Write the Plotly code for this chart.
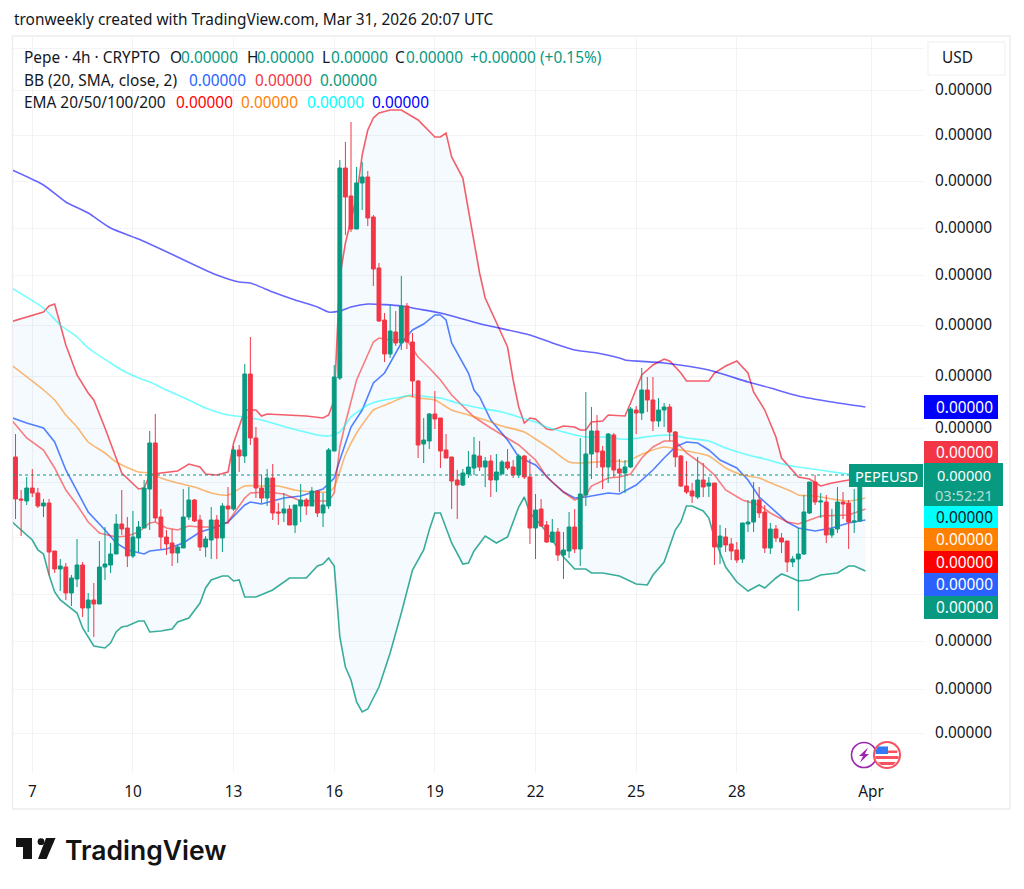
import plotly.graph_objects as go

# All price readings are in units of 5e-9 USD.
PRICE_UNIT = 5e-9

first_bar = -3   # bar index: 0 is the Mar 7 00:00 4h bar
body_top = [
 343,301,312,312,307,297,297,249,234,233,222,235,235,200,200,233,236,246,276,276,
 272,263,273,312,357,357,283,263,257,253,283,300,300,280,261,280,280,294,294,350,
 350,426,426,362,312,322,322,288,291,291,295,300,300,309,309,295,350,423,632,632,
 604,617,623,623,583,532,480,469,468,494,494,458,419,360,386,386,382,350,343,320,
 327,333,345,344,339,339,328,338,338,333,344,344,323,290,291,275,268,268,250,273,
 273,306,346,369,369,349,366,365,331,333,391,390,410,410,400,390,393,393,368,344,
 314,309,320,320,317,317,264,263,256,250,277,278,300,300,288,271,271,262,259,241,
 246,288,318,318,299,298,271,298,298,297,279,320,325]
body_bottom = [
 301,300,299,307,294,294,248,231,231,207,207,221,192,192,196,196,233,235,246,271,
 244,244,262,272,311,282,263,256,247,247,252,283,279,253,253,260,262,262,291,291,
 344,344,362,312,302,302,287,287,287,275,275,294,294,294,287,287,294,349,422,603,
 571,571,617,582,531,479,446,446,457,457,458,419,355,356,359,381,349,342,319,315,
 315,326,332,333,333,320,320,326,332,325,325,323,272,272,274,258,258,245,245,249,
 251,251,305,346,348,333,333,330,327,327,333,387,387,400,379,379,390,368,343,314,
 308,304,303,313,314,253,253,255,249,240,241,276,278,287,252,252,262,258,238,238,
 241,246,287,298,298,265,265,271,296,278,278,279,324]
wick_high = [
 366,310,323,331,312,301,301,249,241,237,225,261,238,207,217,259,273,257,286,310,
 283,289,279,320,369,386,291,270,271,255,311,313,301,285,264,293,285,297,313,354,
 355,436,463,373,325,331,336,297,307,295,295,316,302,313,310,307,352,435,640,658,
 678,633,638,629,585,537,487,495,489,524,497,467,420,382,387,409,382,366,343,330,
 331,349,363,359,343,345,346,340,351,340,346,345,341,306,301,279,281,272,268,288,
 291,362,408,393,385,354,367,367,341,340,393,394,432,423,423,402,397,396,369,345,
 339,317,343,337,323,317,275,272,262,258,277,300,318,313,295,277,275,267,259,244,
 272,305,318,325,307,305,291,313,308,300,311,322,326]
wick_low = [
 281,264,295,303,292,283,225,227,209,200,194,213,183,168,163,196,220,227,246,265,
 233,242,248,272,270,278,251,245,234,237,252,280,278,249,243,241,241,248,276,289,
 328,337,355,302,297,294,280,275,278,275,267,278,285,294,283,273,291,349,420,565,
 568,571,590,574,514,478,438,442,454,450,451,403,342,337,351,371,332,342,291,281,
 314,322,325,329,313,303,308,326,330,322,322,321,256,241,273,257,257,239,221,242,
 247,234,294,321,332,311,317,323,308,307,332,366,380,388,369,373,373,359,333,313,
 306,297,301,303,303,235,236,248,240,237,237,268,268,282,247,246,258,247,228,233,
 189,245,286,295,282,257,262,267,281,251,267,278,322]
rising = (
 "RRGRRGRRGR" "GGRGRGGGGR" "RGGGGRRRRG" "GGRRGGRGRG" "RGRRRGRRGR"
 "GGRGRGGGGR" "RGGRRRRGRG" "RRRGGRRRRR" "GGGRGRGGRR" "GRRGRRGRGG"
 "RGGGRRGRRG" "GRGRRGGRRR" "RRGRGRGRRR" "GGGRRGRRRG" "GGGRGRGGRR" "GGG")

bar_index = [first_bar + k for k in range(len(body_top))]
open_ = [(b if r == "G" else t) for t, b, r in zip(body_top, body_bottom, rising)]
close_ = [(t if r == "G" else b) for t, b, r in zip(body_top, body_bottom, rising)]
last_close = 325

bb_upper_x = [-4,2,3,4,6,8,10,11,13,15,16,19,20,21,23,26,28,30,31,33,35,36,38,40,41,42,46,49,52,53,54,55,56,58,59,60,61,62,64,66,69,70,72,73,74,75,77,78,79,80,81,82,83,85,86,87,88,89,90,92,93,95,97,98,99,100,102,103,106,107,109,111,113,114,116,117,121,122,124,126,128,129,131,133,134,136,137,139,141,143,146,149]
bb_upper_y = [478,488,494,496,455,425,407,400,372,342,327,311,312,325,327,329,336,333,326,325,328,357,390,390,384,386,385,384,382,385,400,523,557,603,645,670,682,687,690,690,680,674,663,663,667,643,622,590,557,527,502,490,478,453,420,393,377,382,381,371,370,374,373,370,370,378,379,385,384,397,425,435,441,439,427,419,419,427,434,439,427,408,390,363,342,330,323,321,314,317,320,322]
bb_lower_x = [-4,-2,0,1,2,3,4,5,8,9,11,13,14,15,16,17,19,20,21,23,25,26,28,30,31,32,34,35,36,37,38,40,43,46,49,51,52,53,54,55,56,57,58,59,60,62,64,66,68,70,71,72,73,75,77,78,79,81,83,85,87,88,89,91,93,95,97,99,100,102,105,108,110,111,113,115,116,117,118,120,121,122,124,126,128,130,131,133,134,135,137,139,141,144,146,147,149]
bb_lower_y = [280,270,260,250,246,225,208,200,187,172,154,152,157,168,173,174,179,179,168,169,171,178,182,197,212,220,224,224,219,220,203,203,210,222,222,234,236,242,234,163,133,120,98,88,91,113,147,187,230,250,270,287,287,257,236,237,249,264,257,263,293,303,287,275,260,243,231,231,227,227,224,216,215,225,238,270,278,294,294,289,282,262,233,218,209,215,212,222,226,224,219,220,225,227,234,234,229]
bb_basis_x = [-4,-1,2,4,6,10,13,15,17,20,21,24,27,30,33,35,38,39,41,45,48,52,54,55,57,59,61,63,66,68,70,72,73,74,75,78,79,80,82,85,87,90,93,95,97,99,103,105,108,111,113,115,117,119,121,123,126,128,130,133,135,137,140,143,146,149]
bb_basis_y = [383,377,372,358,330,288,270,257,250,246,249,251,257,268,273,278,295,298,296,302,304,311,322,340,373,390,417,427,457,470,476,485,485,480,457,427,410,403,380,360,343,335,318,308,302,303,307,306,315,330,342,353,358,357,350,340,332,320,303,288,278,272,269,272,277,280]
ema20_x = [-4,-1,2,4,6,8,10,12,15,17,19,21,22,24,26,28,30,33,35,38,39,42,45,48,53,54,55,56,58,59,61,62,64,67,69,71,73,75,79,82,85,87,90,92,95,97,99,100,103,105,107,109,111,113,115,117,120,122,124,127,130,132,135,137,139,141,146,149]
ema20_y = [382,362,350,332,310,295,278,267,263,264,268,277,278,272,270,274,273,273,278,302,307,308,306,299,299,307,353,377,420,433,458,462,460,460,443,432,420,405,383,372,362,355,340,323,308,300,305,314,322,323,326,342,353,359,359,347,335,325,310,300,295,287,278,276,280,284,285,291]
ema50_x = [-4,2,4,6,8,10,13,15,19,21,23,26,29,32,35,38,41,44,47,51,53,54,56,58,60,61,64,67,69,72,75,78,81,84,88,90,93,96,98,101,105,106,108,110,113,116,121,124,127,130,133,136,137,140,143,146,149]
ema50_y = [436,410,400,385,373,358,347,338,328,327,322,317,313,307,305,314,314,314,310,308,308,313,345,367,383,390,397,404,402,400,390,385,380,374,368,361,350,338,337,338,339,338,343,348,353,350,344,332,325,322,315,308,305,304,301,299,302]
ema100_x = [-4,2,5,8,10,14,16,19,21,24,28,31,35,38,41,46,51,53,55,57,60,62,65,68,71,73,76,80,84,87,90,92,95,99,103,105,107,111,114,117,121,124,128,131,135,137,142,146,149]
ema100_y = [513,492,475,463,452,437,430,422,418,410,400,392,385,383,380,372,365,364,368,383,395,399,402,405,403,402,397,392,388,383,378,373,368,363,363,361,361,364,365,362,359,352,345,341,335,333,329,326,325]
ema200_x = [-4,2,6,10,14,19,21,26,29,33,37,39,43,47,51,53,55,57,60,66,69,73,77,81,89,93,97,101,105,106,113,121,128,132,137,143,149]
ema200_y = [631,615,598,587,572,561,556,543,535,525,518,517,508,500,493,488,489,493,496,494,491,487,481,475,465,457,450,447,442,440,437,430,418,412,404,398,393]

time_tick_vals = [0, 18, 36, 54, 72, 90, 108, 126, 150]
time_tick_text = ["7", "10", "13", "16", "19", "22", "25", "28", "Apr"]
price_grid_vals = [752,710,665,619,572,525,475,424,372,318,263,206,159,111,67]
price_label_shown = [0,1,1,1,1,1,1,1,1,0,0,0,1,1,1]

FONT = "Noto Sans"
TEXT_SIZE = 15.4
INK = "#131722"
TEAL = "#089981"
RED = "#F23645"
GRID = "#F3F3F5"
FRAME = "#EDEDEF"

L, R, T, B = 13, 923, 36, 772
def fx(x): return (x - L) / (R - L)
def fy(y): return (B - y) / (B - T)
def P(v): return v * PRICE_UNIT

def scaled(vals): return [P(v) for v in vals]

fig = go.Figure()
# band and lines on the primary axes, candles on an overlay so that they sit above the lines
fig.add_trace(go.Scatter(x=bb_lower_x, y=scaled(bb_lower_y), mode="lines", line=dict(color="rgba(8,153,129,0.8)", width=1.6), hoverinfo="skip"))
fig.add_trace(go.Scatter(x=bb_upper_x, y=scaled(bb_upper_y), mode="lines", line=dict(color="rgba(242,54,69,0.8)", width=1.6),
                         fill="tonexty", fillcolor="rgba(33,150,243,0.05)", hoverinfo="skip"))
fig.add_trace(go.Scatter(x=bb_basis_x, y=scaled(bb_basis_y), mode="lines", line=dict(color="rgba(41,98,255,0.8)", width=1.6), hoverinfo="skip"))
fig.add_trace(go.Scatter(x=ema20_x, y=scaled(ema20_y), mode="lines", line=dict(color="rgba(255,0,0,0.5)", width=1.6), hoverinfo="skip"))
fig.add_trace(go.Scatter(x=ema50_x, y=scaled(ema50_y), mode="lines", line=dict(color="rgba(255,128,0,0.55)", width=1.6, shape="spline", smoothing=0.6), hoverinfo="skip"))
fig.add_trace(go.Scatter(x=ema100_x, y=scaled(ema100_y), mode="lines", line=dict(color="rgba(0,255,255,0.55)", width=1.6, shape="spline", smoothing=0.6), hoverinfo="skip"))
fig.add_trace(go.Scatter(x=ema200_x, y=scaled(ema200_y), mode="lines", line=dict(color="rgba(0,0,255,0.6)", width=1.6, shape="spline", smoothing=0.6), hoverinfo="skip"))
fig.add_trace(go.Candlestick(
    x=bar_index, open=scaled(open_), high=scaled(wick_high), low=scaled(wick_low), close=scaled(close_),
    xaxis="x2", yaxis="y2", whiskerwidth=0,
    increasing=dict(line=dict(color=TEAL, width=1), fillcolor=TEAL),
    decreasing=dict(line=dict(color=RED, width=1), fillcolor=RED), hoverinfo="skip"))

X_RANGE = [-3.45, 159.3]
Y_RANGE = [P(28), P(764)]

shapes = []
def rect(x0, y0, x1, y1, line=None, fill=None, w=1, layer="above"):
    shapes.append(dict(type="rect", xref="paper", yref="paper", x0=fx(x0), x1=fx(x1), y0=fy(y0), y1=fy(y1),
                       line=dict(color=line or "rgba(0,0,0,0)", width=w), fillcolor=fill or "rgba(0,0,0,0)", layer=layer))
def path(points, fill, line=None, w=0):
    d = "M" + " L".join(f"{fx(x):.5f},{fy(y):.5f}" for x, y in points) + " Z"
    shapes.append(dict(type="path", xref="paper", yref="paper", path=d, fillcolor=fill,
                       line=dict(color=line or "rgba(0,0,0,0)", width=w), layer="above"))
def circle(cx, cy, r, fill, line=None, w=0):
    shapes.append(dict(type="circle", xref="paper", yref="paper", x0=fx(cx-r), x1=fx(cx+r), y0=fy(cy+r), y1=fy(cy-r),
                       fillcolor=fill, line=dict(color=line or "rgba(0,0,0,0)", width=w), layer="above"))

# outer frame and currency button
rect(12.5, 36, 1010, 809, line=FRAME, w=1.5, layer="below")
rect(928, 42, 1005, 75, line="#EFEFF1", fill="#FFFFFF", w=1)
# last price line
shapes.append(dict(type="line", xref="paper", yref="y", x0=0, x1=1, y0=P(last_close), y1=P(last_close),
                   line=dict(color=TEAL, width=1, dash="dot"), layer="above"))
# TradingView mark
path([(16,838),(32,838),(32,859),(23,859),(23,847),(16,847)], "#131313")
circle(41, 841.7, 3.4, "#131313")
path([(46,838),(55.5,838),(46.5,859),(38,859)], "#131313")
# event icons
circle(864, 755, 12.5, "#FFFFFF", "#9C27B0", 1.6)
path([(868,747.5),(859,756),(863,756),(860,762.5),(869,754),(865,754)], "#9C27B0")
circle(887, 755, 13, "#FFFFFF", "#F7525F", 2)
path([(876.5,750.5),(897.5,750.5),(897,753),(877,753)], "#F7525F")
path([(875.5,756),(898.5,756),(898.5,759),(875.5,759)], "#F7525F")
path([(878,762),(896,762),(893,765),(881,765)], "#F7525F")
path([(878,746.5),(888,746.5),(888,754),(875.5,754),(875.5,751)], "#3179F5")

annotations = []
def text(x, y, s, color=INK, size=TEXT_SIZE, anchor="left", family=FONT, **kw):
    annotations.append(dict(xref="paper", yref="paper", x=fx(x), y=fy(y), text=s, showarrow=False,
                            xanchor=anchor, yanchor="middle", borderpad=0, borderwidth=0,
                            font=dict(family=family, size=size, color=color, **kw)))

text(14, 20, "tronweekly created with TradingView.com, Mar 31, 2026 20:07 UTC")
rows = [
 (57, [(24,"Pepe · 4h · CRYPTO",INK),(170,"O",INK),(181,"0.00000",TEAL),(247,"H",INK),(257,"0.00000",TEAL),(322,"L",INK),(331,"0.00000",TEAL),(395,"C",INK),(406,"0.00000",TEAL),(470,"+0.00000",TEAL),(540,"(+0.15%)",TEAL)]),
 (80, [(24,"BB (20, SMA, close, 2)",INK),(189,"0.00000","#2962FF"),(255,"0.00000",RED),(320,"0.00000",TEAL)]),
 (102,[(24,"EMA 20/50/100/200",INK),(176,"0.00000","#FF0000"),(241,"0.00000","#FF7F00"),(307,"0.00000","#00FFFF"),(372,"0.00000","#0000FF")]),
]
for y, runs in rows:
    for x, s, c in runs:
        text(x, y, s, c)
text(942, 58, "USD")
text(65, 850, "TradingView", color="#131313", size=26.5, family="Inter", weight=600)

# value tags on the price scale (stacked so that they do not overlap)
tags = [(395,419,"#0000FF","#FFFFFF"),(441,464,RED,"#FFFFFF"),(506,528,"#00FFFF",INK),(528,551,"#FF7F00","#FFFFFF"),
        (551,573,"#FF0000","#FFFFFF"),(573,596,"#2962FF","#FFFFFF"),(596,619,TEAL,"#FFFFFF")]
for y0, y1, bg, fg in tags:
    rect(924, y0, 998, y1, fill=bg, w=0)
    text(964, (y0 + y1) / 2, "0.00000", fg, anchor="center")
rect(924, 463, 1003, 506, fill=TEAL, w=0)
text(964, 474.5, "0.00000", "#FFFFFF", anchor="center", size=14.6)
text(964, 494.5, "03:52:21", "rgba(255,255,255,0.7)", anchor="center", size=14.6)
rect(849, 464, 923, 487, fill=TEAL, w=0)
text(886, 475.5, "PEPEUSD", "#FFFFFF", anchor="center", size=14.6)

price_tick_text = [f"{P(v):.5f}" if s else "" for v, s in zip(price_grid_vals, price_label_shown)]

fig.update_layout(
    width=1024, height=889, autosize=False, showlegend=False,
    paper_bgcolor="#FFFFFF", plot_bgcolor="#FFFFFF",
    margin=dict(l=L, r=1024-R, t=T, b=889-B, pad=0),
    font=dict(family=FONT, size=14, color=INK),
    boxgap=0.02,
    xaxis=dict(range=X_RANGE, tickvals=time_tick_vals, ticktext=time_tick_text, showgrid=True, gridcolor=GRID, gridwidth=1,
               zeroline=False, showline=False, ticks="outside", ticklen=6, tickcolor="rgba(0,0,0,0)",
               tickfont=dict(family=FONT, size=TEXT_SIZE, color=INK), fixedrange=True),
    yaxis=dict(range=Y_RANGE, side="right", tickvals=scaled(price_grid_vals), ticktext=price_tick_text, showgrid=True, gridcolor=GRID,
               gridwidth=1, zeroline=False, showline=False, ticks="outside", ticklen=8, tickcolor="rgba(0,0,0,0)",
               tickfont=dict(family=FONT, size=TEXT_SIZE, color=INK), fixedrange=True),
    xaxis2=dict(range=X_RANGE, overlaying="x", visible=False, rangeslider=dict(visible=False), fixedrange=True),
    yaxis2=dict(range=Y_RANGE, overlaying="y", visible=False, side="right", fixedrange=True),
    shapes=shapes, annotations=annotations,
)

fig.write_html("out.html", config=dict(displayModeBar=False),
               post_script="document.body.style.margin='0';document.documentElement.style.overflow='hidden';")
